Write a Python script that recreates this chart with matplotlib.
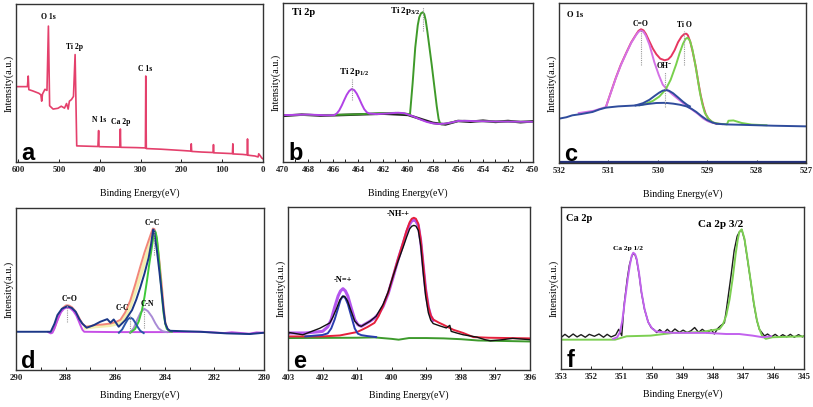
import numpy as np
import matplotlib
matplotlib.use("Agg")
import matplotlib.pyplot as plt
from matplotlib.ticker import MultipleLocator

plt.rcParams['font.family'] = ['Liberation Serif', 'DejaVu Serif']
plt.rcParams['font.weight'] = 'bold'
plt.rcParams['mathtext.fontset'] = 'custom'
plt.rcParams['mathtext.rm'] = 'Liberation Serif:bold'
plt.rcParams['mathtext.it'] = 'Liberation Serif:bold'

# ---- panel a: survey spectrum ----
survey_e = [606, 578, 576, 574.5, 565, 550, 545, 543, 541, 535, 530, 526.5, 523.5, 515, 503, 495,
            487, 482, 478, 475, 470, 465, 461, 457, 430, 405, 403.3, 402.3, 370, 351, 350, 349,
            310, 288.5, 287.6, 286.3, 250, 200, 177, 176, 175, 150, 122.5, 121.5, 120.5, 100,
            75, 74, 73, 50, 39, 38, 37, 20, 12, 10.5, 7, 3, 0]
survey_i = [47.7, 47.7, 54.4, 45.8, 45, 43.5, 42.5, 38.5, 43, 46, 45.3, 86, 35.6, 33.5, 34, 35.3,
            34.1, 37, 33.5, 38.5, 39.5, 41.5, 68, 10.2, 10, 9.8, 19.9, 9.7, 9.5, 9.4, 20.9, 9.3,
            9.1, 8.9, 54.4, 8.5, 8.1, 7.3, 6.9, 11.5, 6.7, 6.3, 6.0, 11, 5.8, 5.6,
            5.3, 11.5, 5.1, 4.8, 4.5, 14.6, 4.3, 3.8, 3.2, 5.2, 4.0, 2.5, 2.0]
survey_labels = ['O 1s', 'Ti 2p', 'N 1s', 'Ca 2p', 'C 1s']
survey_label_e = [525.5, 462, 403, 350, 290]
survey_label_i = [89, 70, 24, 23, 56.5]

# ---- panel b: Ti 2p ----
ti_purple_e = [470, 468, 466.5, 465.9, 465.7, 465.5, 465.3, 465.1, 464.9, 464.7, 464.5, 464.3,
               464.1, 463.9, 463.7, 463.5, 463.3, 463.1, 462.5, 461.5, 460.8, 460.3, 459.9,
               459.5, 459.0, 458.5, 458.0, 457.5, 457.0, 456.5, 456.0, 455.5, 454, 452, 450]
ti_purple_i = [29.5, 29.8, 29.4, 29.5, 30.5, 32.5, 35.5, 39.0, 42.3, 44.7, 45.9, 45.2,
               43.0, 39.8, 36.3, 33.2, 31.3, 30.5, 30.1, 30.6, 31.0, 30.7, 29.6,
               28.4, 26.7, 25.2, 24.3, 23.9, 24.2, 24.9, 25.8, 25.9, 25.6, 25.4, 25.3]
ti_green_e = [470, 466, 464, 462.5, 461, 460.2, 459.84, 459.63, 459.42, 459.22, 459.1, 458.96,
              458.82, 458.7, 458.58, 458.45, 458.3, 458.1, 457.9, 457.7, 457.55, 457.43, 457.3,
              457.0, 456.5, 456.0, 455.5, 454, 452, 450]
ti_green_i = [29.5, 29.6, 30.0, 30.6, 30.9, 30.4, 30.0, 49.5, 72.0, 86.0, 91.0, 93.5,
              94.2, 93.0, 89.0, 82.0, 73.0, 61.0, 48.0, 35.0, 27.0, 24.2, 23.7,
              24.2, 24.9, 25.8, 25.9, 25.6, 25.4, 25.3]
ti_black_e = [470, 468.5, 467, 465.9, 462, 460, 458, 457, 456, 455, 454, 453, 452, 451, 450]
ti_black_i = [29.0, 29.8, 29.2, 29.4, 30.4, 29.6, 24.6, 23.6, 25.8, 25.3, 26.0, 25.2, 25.8, 25.0, 25.6]

# ---- panel c: O 1s ----
o_base_e = [532, 531.85, 531.73, 531.55, 531.32, 531.18, 531.05, 530.8, 530.55, 530.37, 530.2,
            530.03, 529.85, 529.69, 529.55, 529.42, 529.32, 529.22, 529.12, 529.01, 528.9,
            528.81, 528.6, 528.34, 527.66, 527]
o_base_i = [27.7, 28.6, 29.8, 30.6, 31.9, 33.5, 34.6, 35.4, 35.8, 36.1, 36.9,
            37.5, 37.6, 37.1, 36.4, 35.4, 33.9, 31.9, 29.4, 27.0, 25.4,
            24.5, 24.1, 23.9, 23.3, 22.9]
o_oh_e = [530.45, 530.3, 530.17, 530.07, 529.97, 529.9, 529.84, 529.77, 529.69, 529.59, 529.49,
          529.4, 529.35]
o_oh_i = [36.0, 37.4, 39.5, 41.8, 44.0, 45.2, 45.6, 45.1, 43.6, 41.0, 38.3, 36.2, 35.4]
o_co_e = [531.6, 531.3, 531.05, 530.95, 530.85, 530.75, 530.64, 530.54, 530.44, 530.39, 530.34,
          530.29, 530.24, 530.17, 530.07, 529.98, 529.9, 529.8, 529.69, 529.59, 529.49, 529.39,
          529.29, 529.18, 529.08, 528.98, 528.88, 528.7]
o_co_i = [31.2, 32.6, 35.0, 44.0, 53.0, 61.0, 68.5, 75.0, 80.0, 82.0, 82.8,
          82.0, 79.5, 74.0, 63.0, 55.0, 49.0, 45.5, 42.5, 40.0, 37.5, 35.2,
          33.0, 30.5, 27.8, 26.0, 25.0, 24.3]
o_env_e = [531.05, 530.95, 530.85, 530.75, 530.64, 530.54, 530.44, 530.39, 530.34, 530.29,
           530.24, 530.17, 530.1, 530.03, 529.95, 529.86, 529.79, 529.73, 529.66, 529.59, 529.52,
           529.46, 529.42, 529.39, 529.34, 529.29, 529.23, 529.18, 529.13, 529.08, 529.03,
           528.98, 528.9, 528.81]
o_env_i = [35.0, 44.2, 53.2, 61.3, 68.8, 75.3, 80.3, 82.6, 83.6, 82.9,
           80.6, 76.0, 71.5, 68.0, 65.2, 64.2, 64.8, 66.7, 70.5, 75.5, 79.0,
           80.7, 80.8, 79.8, 75.5, 69.0, 60.0, 50.5, 42.0, 35.5, 30.5,
           27.8, 25.5, 24.5]
o_tio_e = [530.37, 530.25, 530.1, 529.97, 529.84, 529.74, 529.63, 529.56, 529.49, 529.44, 529.4,
           529.35, 529.3, 529.25, 529.2, 529.15, 529.1, 529.05, 528.97, 528.88, 528.75, 528.6,
           528.57, 528.47, 528.3, 528.1, 527.8]
o_tio_i = [36.1, 37.0, 38.8, 41.5, 46.0, 52.0, 61.5, 68.5, 74.5, 77.5, 78.3,
           76.5, 71.0, 63.0, 54.0, 44.5, 37.0, 31.5, 27.5, 25.3, 24.5, 24.2,
           26.4, 26.6, 25.0, 24.0, 23.6]

# ---- panel d: C 1s ----
c_exp_e = [290, 288.6, 288.45, 288.33, 288.15, 287.93, 287.75, 287.59, 287.45, 287.33, 287.15,
           286.86, 286.6, 286.32, 286.19, 286.06, 285.86, 285.59, 285.32, 285.15, 284.99, 284.82,
           284.65, 284.55, 284.47, 284.43, 284.38, 284.32, 284.22, 284.12, 284.05, 283.98,
           283.88, 283.78, 282.58, 281.51, 280.57, 280]
c_exp_i = [23.6, 23.6, 28.5, 33.9, 37.8, 39.4, 38.3, 35.9, 31.5, 28.7, 26.1,
           27.7, 29.8, 31.4, 29.2, 31.2, 26.7, 30.8, 37.0, 43.5, 50.9, 59.5,
           69.4, 78.0, 86.7, 86.0, 80.0, 73.9, 61.0, 47.2, 37.0, 28.7,
           25.2, 24.2, 23.6, 22.6, 22.2, 23.0]
c_env_e = [288.5, 288.42, 288.33, 288.22, 288.1, 287.98, 287.86, 287.74, 287.62, 287.5, 287.4,
           287.3, 287.19, 287.0, 286.86, 286.5, 286.19, 285.95, 285.79, 285.6, 285.39, 285.19,
           284.99, 284.82, 284.65, 284.55, 284.48, 284.42, 284.36, 284.3, 284.22, 284.12,
           284.04, 283.98, 283.9, 283.8]
c_env_i = [24.5, 27.0, 31.0, 35.2, 38.5, 39.9, 39.8, 38.7, 36.6, 33.5, 30.6,
           28.2, 26.8, 27.0, 27.7, 28.1, 28.7, 29.8, 31.0, 35.5, 43.0, 53.0,
           63.7, 72.5, 80.1, 84.5, 87.3, 87.0, 84.0, 78.0, 67.5, 52.0,
           38.0, 29.5, 25.5, 23.8]
c_yel_e = [287.2, 286.8, 286.2, 285.8, 285.6, 285.4, 285.2, 285.0, 284.8, 284.65, 284.52]
c_yel_i = [26.0, 26.8, 27.6, 29.0, 32.5, 39.0, 48.0, 57.5, 67.5, 75.0, 82.0]
c_co_e = [288.7, 288.6, 288.53, 288.45, 288.37, 288.28, 288.18, 288.06, 287.93, 287.8, 287.68,
          287.57, 287.48, 287.4, 287.32, 287.25, 286.0, 284.0, 282.5, 281.6, 281.3, 280.6,
          280.3, 280]
c_co_i = [23.4, 22.6, 23.0, 25.5, 29.0, 32.5, 35.8, 37.9, 38.6, 38.0, 36.3,
          33.7, 30.5, 27.5, 24.8, 23.6, 23.4, 23.4, 23.6, 22.8, 23.3, 22.4,
          23.2, 23.0]
c_cc2_e = [285.39, 285.2, 285.05, 284.92, 284.82, 284.72, 284.62, 284.52, 284.46, 284.41,
           284.37, 284.32, 284.25, 284.18, 284.12, 284.05, 283.98, 283.92, 283.8, 283.72]
c_cc2_i = [23.0, 25.3, 30.0, 37.0, 45.0, 55.0, 66.0, 76.0, 82.5, 85.8,
           85.0, 81.5, 71.0, 58.0, 46.0, 35.0, 28.5, 25.5, 23.8, 23.6]
c_cc_e = [285.85, 285.72, 285.59, 285.49, 285.39, 285.29, 285.19, 285.09, 284.99, 284.85]
c_cc_i = [23.0, 25.0, 28.7, 31.3, 32.4, 31.5, 29.2, 26.5, 24.2, 22.8]
c_cn_e = [285.4, 285.25, 285.12, 284.98, 284.83, 284.68, 284.52, 284.38, 284.25, 284.1, 283.92]
c_cn_i = [23.0, 26.0, 30.8, 35.3, 37.8, 36.3, 32.9, 28.8, 25.7, 24.0, 23.4]

# ---- panel e: N 1s ----
n_base_e = [403, 401, 400.5, 400, 399.8, 399.5, 399, 398.5, 398, 397.5, 396]
n_base_i = [19.6, 19.8, 20.0, 19.1, 18.6, 19.6, 19.6, 19.4, 18.9, 18.1, 17.5]
n_env_e = [403, 402, 401.5, 401, 400.85, 400.7, 400.5, 400.38, 400.25, 400.1, 399.96, 399.82,
           399.67, 399.57, 399.48, 399.42, 399.36, 399.3, 399.23, 399.16, 399.09, 399.02,
           398.94, 398.87, 398.8, 398.65, 398.51, 398.22, 397.93, 397.64, 397.2, 396]
n_env_i = [20.6, 20.6, 21.2, 23.3, 24.8, 26.4, 28.9, 33.0, 39.2, 47.5, 57.7, 68.0,
           78.4, 85.5, 90.7, 92.8, 93.4, 92.8, 89.7, 80.0, 65.0, 50.0,
           39.0, 33.5, 31.0, 29.2, 27.8, 24.7, 22.7, 20.2, 19.8, 19.4]
n_mag_e = [403, 402.5, 402.0, 401.85, 401.75, 401.65, 401.55, 401.48, 401.41, 401.34, 401.27,
           401.17, 401.07, 400.98, 400.88, 400.63, 400.5, 400.38, 400.25, 400.1, 399.96, 399.82,
           399.67, 399.57, 399.48, 399.42, 399.36, 399.3, 399.23, 399.16, 399.09, 399.02,
           398.94, 398.87, 398.8]
n_mag_i = [22.7, 22.7, 23.7, 26.5, 30.9, 38.5, 45.4, 48.5, 49.9, 48.5, 45.4,
           38.0, 30.9, 27.8, 26.8, 29.9, 31.8, 34.5, 39.0, 47.0, 57.0, 67.5,
           77.5, 84.5, 89.5, 91.5, 92.0, 91.4, 88.5, 79.0, 64.0, 49.5,
           38.5, 33.0, 30.5]
n_navy_e = [402.5, 402.0, 401.85, 401.75, 401.65, 401.55, 401.48, 401.41, 401.34, 401.27,
            401.17, 401.07, 400.98, 400.88, 400.7, 400.45]
n_navy_i = [20.6, 21.5, 22.5, 25.5, 31.0, 38.0, 43.0, 45.4, 44.0, 40.5,
            33.0, 25.5, 22.3, 21.4, 20.8, 20.2]
n_exp_e = [403, 402.97, 402.57, 402.08, 401.79, 401.7, 401.6, 401.5, 401.43, 401.36, 401.28,
           401.18, 401.07, 400.95, 400.88, 400.63, 400.45, 400.25, 400.1, 399.96, 399.82, 399.67,
           399.57, 399.48, 399.42, 399.36, 399.3, 399.23, 399.16, 399.09, 399.02, 398.94,
           398.87, 398.8, 398.6, 398.42, 398.32, 398.28, 398.12, 397.93, 397.54, 397.3, 397.15,
           396.8, 396.5, 396]
n_exp_i = [21.0, 23.0, 21.6, 25.6, 28.9, 32.5, 37.5, 43.0, 45.0, 45.2, 42.5,
           36.5, 30.0, 27.3, 26.8, 29.9, 33.0, 40.2, 48.0, 57.7, 66.5, 75.3,
           81.5, 86.6, 88.2, 88.7, 88.3, 85.6, 76.0, 59.8, 45.5, 35.1,
           30.5, 28.5, 27.0, 25.8, 27.4, 23.7, 22.7, 21.6, 20.2, 18.6, 17.9,
           18.6, 19.4, 18.6]

# ---- panel f: Ca 2p ----
ca_green_e = [353, 351.22, 350.84, 350.05, 349.3, 348.43, 347.78, 347.67, 347.56, 347.45, 347.35,
              347.25, 347.18, 347.13, 347.05, 346.96, 346.86, 346.75, 346.65, 346.55, 346.47,
              346.38, 346.26, 346.04, 345]
ca_green_i = [18.1, 18.1, 20.2, 20.6, 22.3, 22.7, 24.7, 27.5, 33.0, 43.0, 55.7,
              71.0, 80.0, 84.5, 86.2, 80.4, 68.0, 53.6, 40.5, 30.0, 24.7,
              20.5, 18.6, 19.6, 20.2]
ca_mag_e = [351.28, 351.15, 351.06, 350.98, 350.89, 350.8, 350.73, 350.67, 350.62, 350.56,
            350.51, 350.43, 350.35, 350.25, 350.13, 350.0, 349.86, 349.31, 348.22, 347.56,
            347.13, 346.69, 346.36, 346.09]
ca_mag_i = [18.6, 19.6, 22.7, 30.0, 43.3, 56.0, 64.5, 70.0, 71.8, 70.8,
            68.0, 59.0, 47.4, 37.0, 28.9, 25.0, 23.1, 22.3, 22.3, 21.6,
            21.6, 20.6, 19.6, 20.2]
ca_exp_e = [353, 352.87, 352.74, 352.6, 352.47, 352.34, 352.2, 352.07, 351.9, 351.75, 351.6,
            351.48, 351.35, 351.2, 351.1, 351.0, 350.92, 350.82, 350.75, 350.67, 350.62, 350.56,
            350.51, 350.43, 350.35, 350.25, 350.13, 350.03,
            349.95, 349.85, 349.75, 349.62, 349.5, 349.38, 349.25, 349.1, 348.98, 348.85, 348.72,
            348.6, 348.47, 348.35, 348.2, 348.05, 347.95, 347.85, 347.75, 347.62, 347.56, 347.48,
            347.4, 347.3, 347.2, 347.13, 347.05, 346.96, 346.86, 346.75, 346.65, 346.55, 346.47,
            346.3, 346.2, 346.07, 345.95, 345.82, 345.7, 345.57, 345.45, 345.32, 345.18, 345.05,
            345]
ca_exp_i = [19.4, 21.4, 19.6, 21.6, 19.8, 21.2, 19.6, 21.4, 20.2, 21.6, 19.6,
            21.4, 19.8, 21.0, 24.5, 20.6, 40.0, 55.5, 64.0, 69.6, 71.3, 70.4,
            67.5, 58.5, 47.0, 36.8, 29.0, 25.5,
            24.5, 22.5, 24.3, 22.2, 24.5, 22.4, 24.7, 22.6, 24.0, 22.5, 23.6,
            25.6, 22.6, 24.5, 22.4, 24.2, 21.6, 24.8, 26.6, 28.5, 36.0, 47.0,
            58.0, 73.0, 82.0, 84.5, 86.0, 80.0, 67.5, 53.5, 40.0, 29.8, 24.5,
            20.4, 21.6, 19.8, 21.4, 19.6, 21.2, 19.8, 21.4, 19.6, 21.2, 19.8,
            20.4]

W, H = 813, 407
fig = plt.figure(figsize=(W / 100, H / 100), dpi=100)


def px_axes(l, t, r, b):
    return fig.add_axes([l / W, 1 - b / H, (r - l) / W, (b - t) / H])


def style(ax, xlim, major, minor, letter, xpad):
    ax.set_xlim(*xlim)
    ax.set_ylim(0, 100)
    ax.set_yticks([])
    ax.xaxis.set_major_locator(MultipleLocator(major))
    if minor:
        ax.xaxis.set_minor_locator(MultipleLocator(minor))
    ax.tick_params(axis='x', which='both', direction='in', length=2.5, width=0.7,
                   labelsize=6.3, pad=3, colors='#222222')
    for s in ax.spines.values():
        s.set_linewidth(1.0)
        s.set_color('#333333')
    ax.set_xlabel('Binding Energy(eV)', fontsize=7, labelpad=xpad)
    ax.set_ylabel('Intensity(a.u.)', fontsize=7.3, labelpad=1.5)
    ax.text(0.022, 0.012, letter, transform=ax.transAxes, family='Liberation Sans',
            fontweight='bold', fontsize=17, ha='left', va='baseline')


def dotted(ax, x, y0, y1):
    ax.plot([x, x], [y0, y1], color='#9a9a9a', lw=0.8, ls=(0, (1, 1)))


lw = 1.4

# a
ax = px_axes(16, 4, 263, 162)
ax.plot(survey_e, survey_i, color='#e4406c', lw=1.2)
for lab, e, i in zip(survey_labels, survey_label_e, survey_label_i):
    ax.text(e, i, lab, fontsize=5.5, ha='center', va='bottom')
style(ax, (606, 0), 100, None, 'a', 10)

# b
ax = px_axes(283, 3, 533, 162)
ax.plot(ti_black_e, ti_black_i, color='#222222', lw=1.8)
ax.plot(ti_green_e, ti_green_i, color='#3f9a2a', lw=lw)
ax.plot(ti_purple_e, ti_purple_i, color='#b142e6', lw=lw)
dotted(ax, 464.5, 38.9, 52.2)
dotted(ax, 458.8, 82.7, 97.5)
ax.text(464.3, 53, r'Ti 2p$_{1/2}$', fontsize=6.5, ha='center', va='bottom')
ax.text(460.2, 91, r'Ti 2p$_{3/2}$', fontsize=6.5, ha='center', va='bottom')
ax.text(0.035, 0.91, 'Ti 2p', transform=ax.transAxes, fontsize=7.5, ha='left', va='bottom')
style(ax, (470, 450), 2, 1, 'b', 10)

# c
ax = px_axes(559, 3, 806, 163)
ax.plot(o_env_e, o_env_i, color='#e63660', lw=lw)
ax.plot(o_co_e, o_co_i, color='#d472e6', lw=lw)
ax.plot(o_tio_e, o_tio_i, color='#78d04c', lw=lw)
ax.plot(o_oh_e, o_oh_i, color='#2f4c9c', lw=lw)
ax.plot(o_base_e, o_base_i, color='#2f4c9c', lw=lw)
ax.axhline(0.6, color='#23307a', lw=1.6)
dotted(ax, 530.34, 61.2, 83)
dotted(ax, 529.46, 61.2, 82.8)
dotted(ax, 529.86, 35, 57)
ax.text(530.34, 84.5, 'C=O', fontsize=5.5, ha='center', va='bottom')
ax.text(529.46, 84, 'Ti O', fontsize=5.5, ha='center', va='bottom')
ax.text(529.86, 58, r'OH$^{-}$', fontsize=5.5, ha='center', va='bottom')
ax.text(0.034, 0.9, 'O 1s', transform=ax.transAxes, fontsize=6, ha='left', va='bottom')
style(ax, (532, 527), 1, None, 'c', 10)

# d
ax = px_axes(16, 208, 264, 370)
ax.plot(c_yel_e, c_yel_i, color='#f3efb0', lw=2.5)
ax.plot(c_env_e, c_env_i, color='#f2867a', lw=lw)
ax.plot(c_co_e, c_co_i, color='#c64fe6', lw=lw)
ax.plot(c_cn_e, c_cn_i, color='#a98bd6', lw=lw)
ax.plot(c_cc2_e, c_cc2_i, color='#3ec93a', lw=lw)
ax.plot(c_cc_e, c_cc_i, color='#2a55a8', lw=lw)
ax.plot(c_exp_e, c_exp_i, color='#1b3787', lw=lw)
dotted(ax, 284.43, 70.8, 86.7)
dotted(ax, 287.93, 29.8, 40.7)
dotted(ax, 285.39, 22.6, 33.9)
dotted(ax, 284.85, 25.7, 37)
ax.text(284.52, 88.5, 'C=C', fontsize=5.5, ha='center', va='bottom')
ax.text(287.86, 41.5, 'C=O', fontsize=5.5, ha='center', va='bottom')
ax.text(285.72, 35.5, 'C-C', fontsize=5.5, ha='center', va='bottom')
ax.text(284.69, 38.2, 'C-N', fontsize=5.5, ha='center', va='bottom')
style(ax, (290, 280), 2, 1, 'd', 6)

# e
ax = px_axes(288, 207, 530, 370)
ax.plot(n_base_e, n_base_i, color='#3d9a2c', lw=lw)
ax.plot(n_mag_e, n_mag_i, color='#b455ee', lw=2.2)
ax.plot(n_env_e, n_env_i, color='#e6203c', lw=lw)
ax.plot(n_navy_e, n_navy_i, color='#2a3cb0', lw=lw)
ax.plot(n_exp_e, n_exp_i, color='#111111', lw=1.0)
ax.text(399.81, 93, '-NH-+', fontsize=6, ha='center', va='bottom')
ax.text(401.41, 53, '-N=+', fontsize=6, ha='center', va='bottom')
style(ax, (403, 396), 1, None, 'e', 6)

# f
ax = px_axes(561, 207, 804, 369)
ax.plot(ca_exp_e, ca_exp_i, color='#1c1c1c', lw=1.0)
ax.plot(ca_green_e, ca_green_i, color='#7ccf52', lw=lw)
ax.plot(ca_mag_e, ca_mag_i, color='#c262ee', lw=lw)
ax.text(350.78, 73, 'Ca 2p 1/2', fontsize=5.3, ha='center', va='bottom')
ax.text(347.73, 86.5, 'Ca 2p 3/2', fontsize=8, ha='center', va='bottom')
ax.text(0.02, 0.9, 'Ca 2p', transform=ax.transAxes, fontsize=7.5, ha='left', va='bottom')
style(ax, (353, 345), 1, None, 'f', 6)

fig.savefig('out.png', dpi=100)
